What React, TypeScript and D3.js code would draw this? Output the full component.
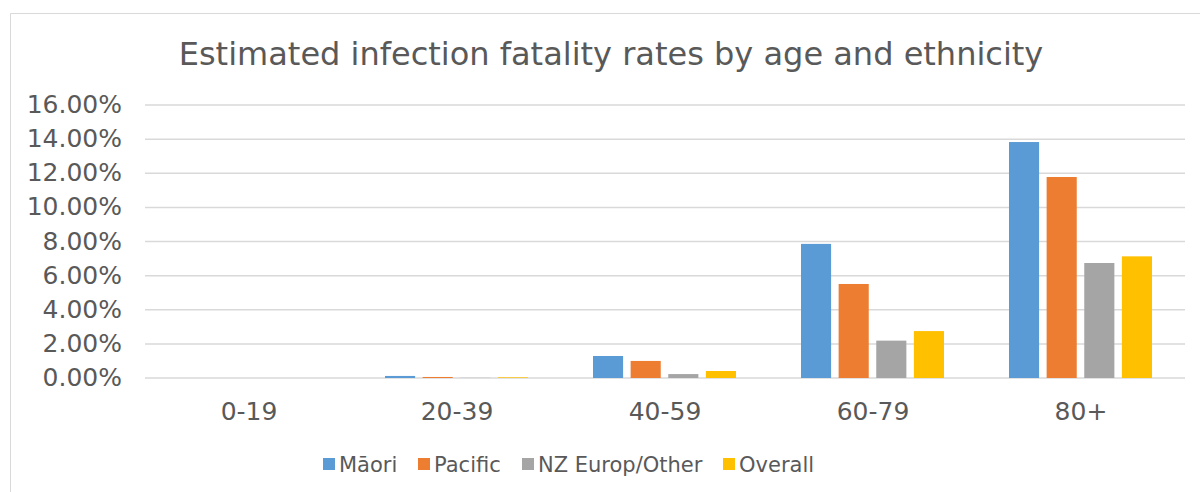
import React, { useEffect, useRef } from "react";
import * as d3 from "d3";

const categories = ["0-19", "20-39", "40-59", "60-79", "80+"];
const seriesNames = ["Māori", "Pacific", "NZ Europ/Other", "Overall"];
const seriesColors = ["#5B9BD5", "#ED7D31", "#A5A5A5", "#FFC000"];
// fatality rates, percent
const maori = [0.0, 0.12, 1.29, 7.86, 13.83];
const pacific = [0.0, 0.06, 1.0, 5.51, 11.78];
const nzEurop = [0.0, 0.01, 0.23, 2.19, 6.74];
const overall = [0.0, 0.04, 0.41, 2.75, 7.13];
const yTicks = [0, 2, 4, 6, 8, 10, 12, 14, 16];

export default function App() {
  const ref = useRef<SVGSVGElement>(null);

  useEffect(() => {
    const svg = d3.select(ref.current);
    svg.selectAll("*").remove();
    const width = 1200, height = 492;
    const left = 145, right = 1185, top = 105, bottom = 378;
    const font = "Verdana, DejaVu Sans, sans-serif";
    const textColor = "#595959";

    svg.append("rect").attr("width", width).attr("height", height).attr("fill", "#fff");
    // chart frame (only top + left visible in the crop)
    svg.append("path")
      .attr("d", "M10.5,500 L10.5,13.5 L1210,13.5")
      .attr("fill", "none").attr("stroke", "#d9d9d9").attr("stroke-width", 1);

    svg.append("text")
      .attr("x", 611).attr("y", 65)
      .attr("text-anchor", "middle")
      .attr("font-family", font).attr("font-size", 32)
      .attr("fill", textColor)
      .text("Estimated infection fatality rates by age and ethnicity");

    const y = d3.scaleLinear().domain([0, 16]).range([bottom, top]);
    const x0 = d3.scaleBand().domain(categories).range([left, right]);
    const x1 = d3.scaleBand().domain(seriesNames).range([32, 175]).paddingInner(0.2);

    // gridlines + labels
    const g = svg.append("g");
    g.selectAll("line.grid").data(yTicks).enter().append("line")
      .attr("x1", left).attr("x2", right)
      .attr("y1", d => y(d)).attr("y2", d => y(d))
      .attr("stroke", "#d9d9d9").attr("stroke-width", 1.5);
    g.selectAll("text.ytick").data(yTicks).enter().append("text")
      .attr("x", 122).attr("y", d => y(d) + 8)
      .attr("text-anchor", "end")
      .attr("font-family", font).attr("font-size", 25)
      .attr("fill", textColor)
      .text(d => d3.format(".2f")(d) + "%");

    const series = [maori, pacific, nzEurop, overall];
    categories.forEach((c, ci) => {
      series.forEach((vals, si) => {
        const v = vals[ci];
        svg.append("rect")
          .attr("x", (x0(c) as number) + (x1(seriesNames[si]) as number))
          .attr("y", y(v))
          .attr("width", x1.bandwidth())
          .attr("height", bottom - y(v))
          .attr("fill", seriesColors[si]);
      });
    });

    svg.selectAll("text.xtick").data(categories).enter().append("text")
      .attr("x", d => (x0(d) as number) + x0.bandwidth() / 2)
      .attr("y", 420)
      .attr("text-anchor", "middle")
      .attr("font-family", font).attr("font-size", 25)
      .attr("fill", textColor)
      .text(d => d);

    // legend
    const legendX = [323, 418, 522, 723];
    seriesNames.forEach((s, i) => {
      svg.append("rect")
        .attr("x", legendX[i]).attr("y", 458)
        .attr("width", 12).attr("height", 12)
        .attr("fill", seriesColors[i]);
      svg.append("text")
        .attr("x", legendX[i] + 16).attr("y", 472)
        .attr("font-family", font).attr("font-size", 21)
        .attr("fill", textColor)
        .text(s);
    });
  }, []);

  return (
    <svg ref={ref} width={1200} height={492}
      style={{ position: "absolute", left: 0, top: 0 }} />
  );
}
